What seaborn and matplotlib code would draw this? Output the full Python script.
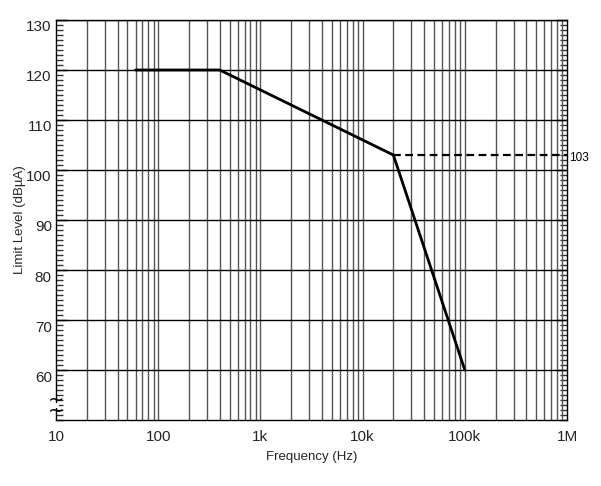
import numpy as np
import pandas as pd
import matplotlib
matplotlib.use("Agg")
import matplotlib.pyplot as plt
import matplotlib.transforms as mtransforms
from matplotlib.patches import Rectangle
from matplotlib.ticker import FixedLocator, MultipleLocator, NullFormatter
import seaborn as sns

# Data
limit_freq = [60, 400, 20000, 100000]
limit_level = [120, 120, 103, 60]
dash_freq = [20000, 1000000]
dash_level = [103, 103]
xtick_vals = [10, 100, 1000, 10000, 100000, 1000000]
xtick_labels = ["10", "100", "1k", "10k", "100k", "1M"]
ytick_vals = [60, 70, 80, 90, 100, 110, 120, 130]

sns.set_theme(style="white")
plt.rcParams['font.family'] = ['Liberation Sans', 'DejaVu Sans']

fig = plt.figure(figsize=(6.01, 4.86), dpi=100)
ax = fig.add_axes([56/601, 1-420/486, 511/601, 400/486])

ax.set_xscale("log")
ax.set_xlim(10, 1e6)
ax.set_ylim(50, 130)

# grid lines
minor_x = [m * 10**d for d in range(1, 6) for m in range(2, 10)]
for xv in minor_x:
    ax.axvline(xv, color="#555555", lw=1.0, zorder=1)
for xv in xtick_vals[1:-1]:
    ax.axvline(xv, color="#555555", lw=1.0, zorder=1)
for yv in ytick_vals:
    ax.axhline(yv, color="black", lw=1.0, zorder=1)

df = pd.DataFrame({"f": limit_freq, "L": limit_level})
sns.lineplot(data=df, x="f", y="L", ax=ax, color="black", lw=2.0, zorder=3,
             sort=False, estimator=None)
dfd = pd.DataFrame({"f": dash_freq, "L": dash_level})
sns.lineplot(data=dfd, x="f", y="L", ax=ax, color="black", lw=1.6, zorder=3,
             sort=False, estimator=None, linestyle=(0, (3.5, 2)))

ax.text(1.004, 102.3, "103", transform=ax.get_yaxis_transform(), fontsize=8.5,
        va="center", ha="left", color="black")

# x ticks
ax.xaxis.set_major_locator(FixedLocator(xtick_vals))
ax.set_xticklabels(xtick_labels)
ax.xaxis.set_minor_locator(FixedLocator(minor_x))
ax.xaxis.set_minor_formatter(NullFormatter())
ax.tick_params(axis="x", which="both", length=0, pad=7.5, labelsize=11)

# y ticks
ax.yaxis.set_major_locator(FixedLocator(ytick_vals))
ax.set_yticklabels([str(v) for v in ytick_vals])
ax.yaxis.set_minor_locator(MultipleLocator(1))
ax.tick_params(axis="y", which="major", direction="in", length=8, width=1,
               left=True, right=True, labelsize=11, pad=3, color="black")
ax.tick_params(axis="y", which="minor", direction="in", length=5, width=1,
               left=True, right=True, color="#333333")
offset = mtransforms.ScaledTranslation(0, -6/100, fig.dpi_scale_trans)
for lbl in ax.get_yticklabels():
    lbl.set_transform(lbl.get_transform() + offset)

for s in ax.spines.values():
    s.set_color("black")
    s.set_linewidth(1.0)
    s.set_visible(True)

# axis break symbol
ax.add_patch(Rectangle((-0.006, 52.3), 0.012, 1.0, transform=ax.get_yaxis_transform(),
                       facecolor="white", edgecolor="none", zorder=6, clip_on=False))
ax.text(0.0, 52.8, "~\n~", transform=ax.get_yaxis_transform(), fontsize=14,
        ha="center", va="center", color="black", zorder=7, clip_on=False,
        family="DejaVu Sans", linespacing=0.45)

ax.set_xlabel("Frequency (Hz)", fontsize=9.5, labelpad=5)
ax.set_ylabel("Limit Level (dBµA)", fontsize=9.5)
ax.yaxis.set_label_coords(-0.058, 0.5)

fig.savefig("out.png", dpi=100)
